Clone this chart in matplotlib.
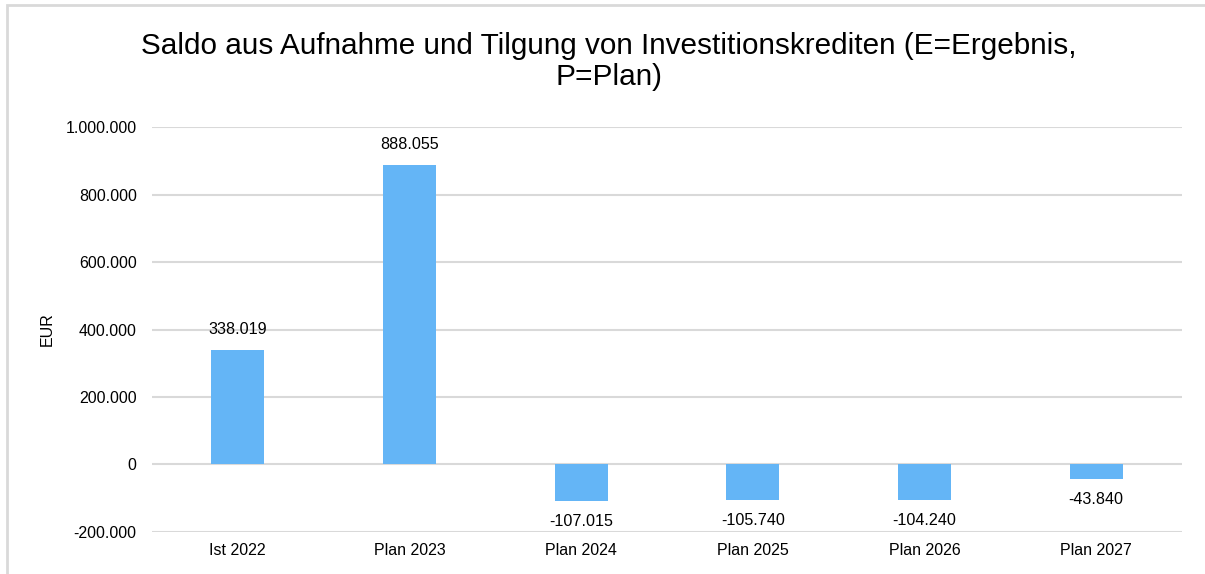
import matplotlib.pyplot as plt
from matplotlib.patches import Rectangle
from matplotlib.ticker import FuncFormatter

categories = ['Ist 2022', 'Plan 2023', 'Plan 2024', 'Plan 2025', 'Plan 2026', 'Plan 2027']
values = [338019, 888055, -107015, -105740, -104240, -43840]
y_ticks = [-200000, 0, 200000, 400000, 600000, 800000, 1000000]


def de_format(v, pos=None):
    # German thousands separator
    return f'{int(round(v)):,}'.replace(',', '.')


plt.rcParams['font.family'] = ['Liberation Sans', 'DejaVu Sans']

fig = plt.figure(figsize=(12.05, 5.74), dpi=100)
ax = fig.add_axes([0.1261, 0.0732, 0.8548, 0.7055])

bars = ax.bar(range(len(categories)), values, width=0.31, color='#64B5F6', zorder=3)
ax.bar_label(bars, labels=[de_format(v) for v in values], padding=9.5, fontsize=11.6, color='#000000')

ax.set_xlim(-0.5, len(categories) - 0.5)
ax.set_ylim(-200000, 1000000)
ax.set_yticks(y_ticks)
ax.yaxis.set_major_formatter(FuncFormatter(de_format))
ax.set_xticks(range(len(categories)))
ax.set_xticklabels(categories)
ax.tick_params(axis='both', length=0, labelsize=11.5, colors='#000000')
ax.tick_params(axis='y', pad=11)
ax.tick_params(axis='x', pad=8)
ax.grid(axis='y', color='#d9d9d9', linewidth=1.5, zorder=0)
for s in ax.spines.values():
    s.set_visible(False)
ax.set_ylabel('EUR', fontsize=11.5, labelpad=8)

fig.text(0.505, 0.893, 'Saldo aus Aufnahme und Tilgung von Investitionskrediten (E=Ergebnis,\nP=Plan)',
         ha='center', va='center', fontsize=21.4, linespacing=1.1)

# outer chart frame (right/bottom cut off in the reference)
fig.patches.append(Rectangle((7 / 1205, -0.1), 1.2, 1 - 5 / 574 + 0.1, transform=fig.transFigure,
                             fill=False, edgecolor='#d9d9d9', linewidth=2, zorder=-1))

fig.savefig('out.png', dpi=100)
